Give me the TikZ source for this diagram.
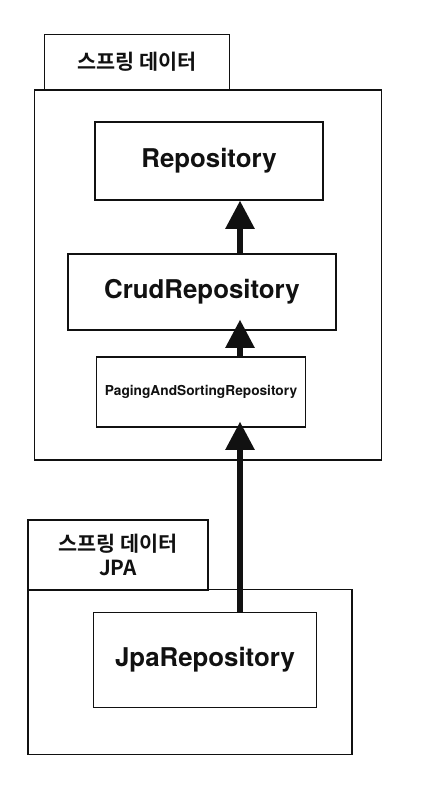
\documentclass[tikz,border=0pt]{standalone}
\usepackage{fontspec}
\setmainfont{TeX Gyre Heros}
\newfontfamily\kr{Noto Sans CJK KR}[BoldFont={Noto Sans CJK KR Bold}]
\usetikzlibrary{arrows.meta,positioning,calc}
\definecolor{ink}{HTML}{111111}
\newcommand{\Px}{0.02cm}

\begin{document}
\begin{tikzpicture}[x=\Px, y=-\Px, ink,
    pkg/.style={draw=ink, line width=0.8pt, inner sep=0pt},
    tab/.style={draw=ink, line width=0.8pt, inner sep=0pt, font=\kr\bfseries\fontsize{11.8}{14}\selectfont, align=center},
    iface/.style={draw=ink, line width=0.8pt, inner sep=0pt, fill=white, font=\bfseries\fontsize{14.7}{17}\selectfont},
    inherit/.style={-{Triangle[length=16pt, width=16pt]}, line width=3pt, draw=ink},
  ]
% --- Page -------------------------------------------------------------------------
\useasboundingbox (0,0) rectangle (429,800);
\coordinate (spine) at (240,0);

% --- Spring Data -------------------------------------------------------------------
\node[tab, minimum width=3.7cm, minimum height=1.1cm] (datatab) at (137,62) {스프링 데이터};
\node[pkg, minimum width=6.94cm, minimum height=7.4cm] (data) at (208,275) {};
\node[iface, minimum width=4.56cm, minimum height=1.56cm] (repo) at (209,161) {Repository};
\node[iface, minimum width=5.36cm, minimum height=1.52cm] (crud) at (202,292) {CrudRepository};
\node[iface, minimum width=4.18cm, minimum height=1.4cm, font=\bfseries\fontsize{7.8}{9}\selectfont] (paging) at (201,392) {PagingAndSortingRepository};

% --- Spring Data JPA ---------------------------------------------------------------
\node[tab, minimum width=3.6cm, minimum height=1.4cm] (jpatab) at (118,555) {스프링 데이터\\JPA};
\node[pkg, minimum width=6.48cm, minimum height=3.3cm] (jpapkg) at (190,672) {};
\node[iface, minimum width=4.46cm, minimum height=1.9cm] (jpa) at (205,660) {JpaRepository};

% --- Inheritance ---------------------------------------------------------------------
\draw[inherit] (crud.north -| spine) -- (repo.south -| spine);
\draw[inherit, shorten >=-0.22cm] (paging.north -| spine) -- (crud.south -| spine);
\draw[inherit, shorten >=-0.12cm] (jpa.north -| spine) -- (paging.south -| spine);
\end{tikzpicture}
\end{document}
